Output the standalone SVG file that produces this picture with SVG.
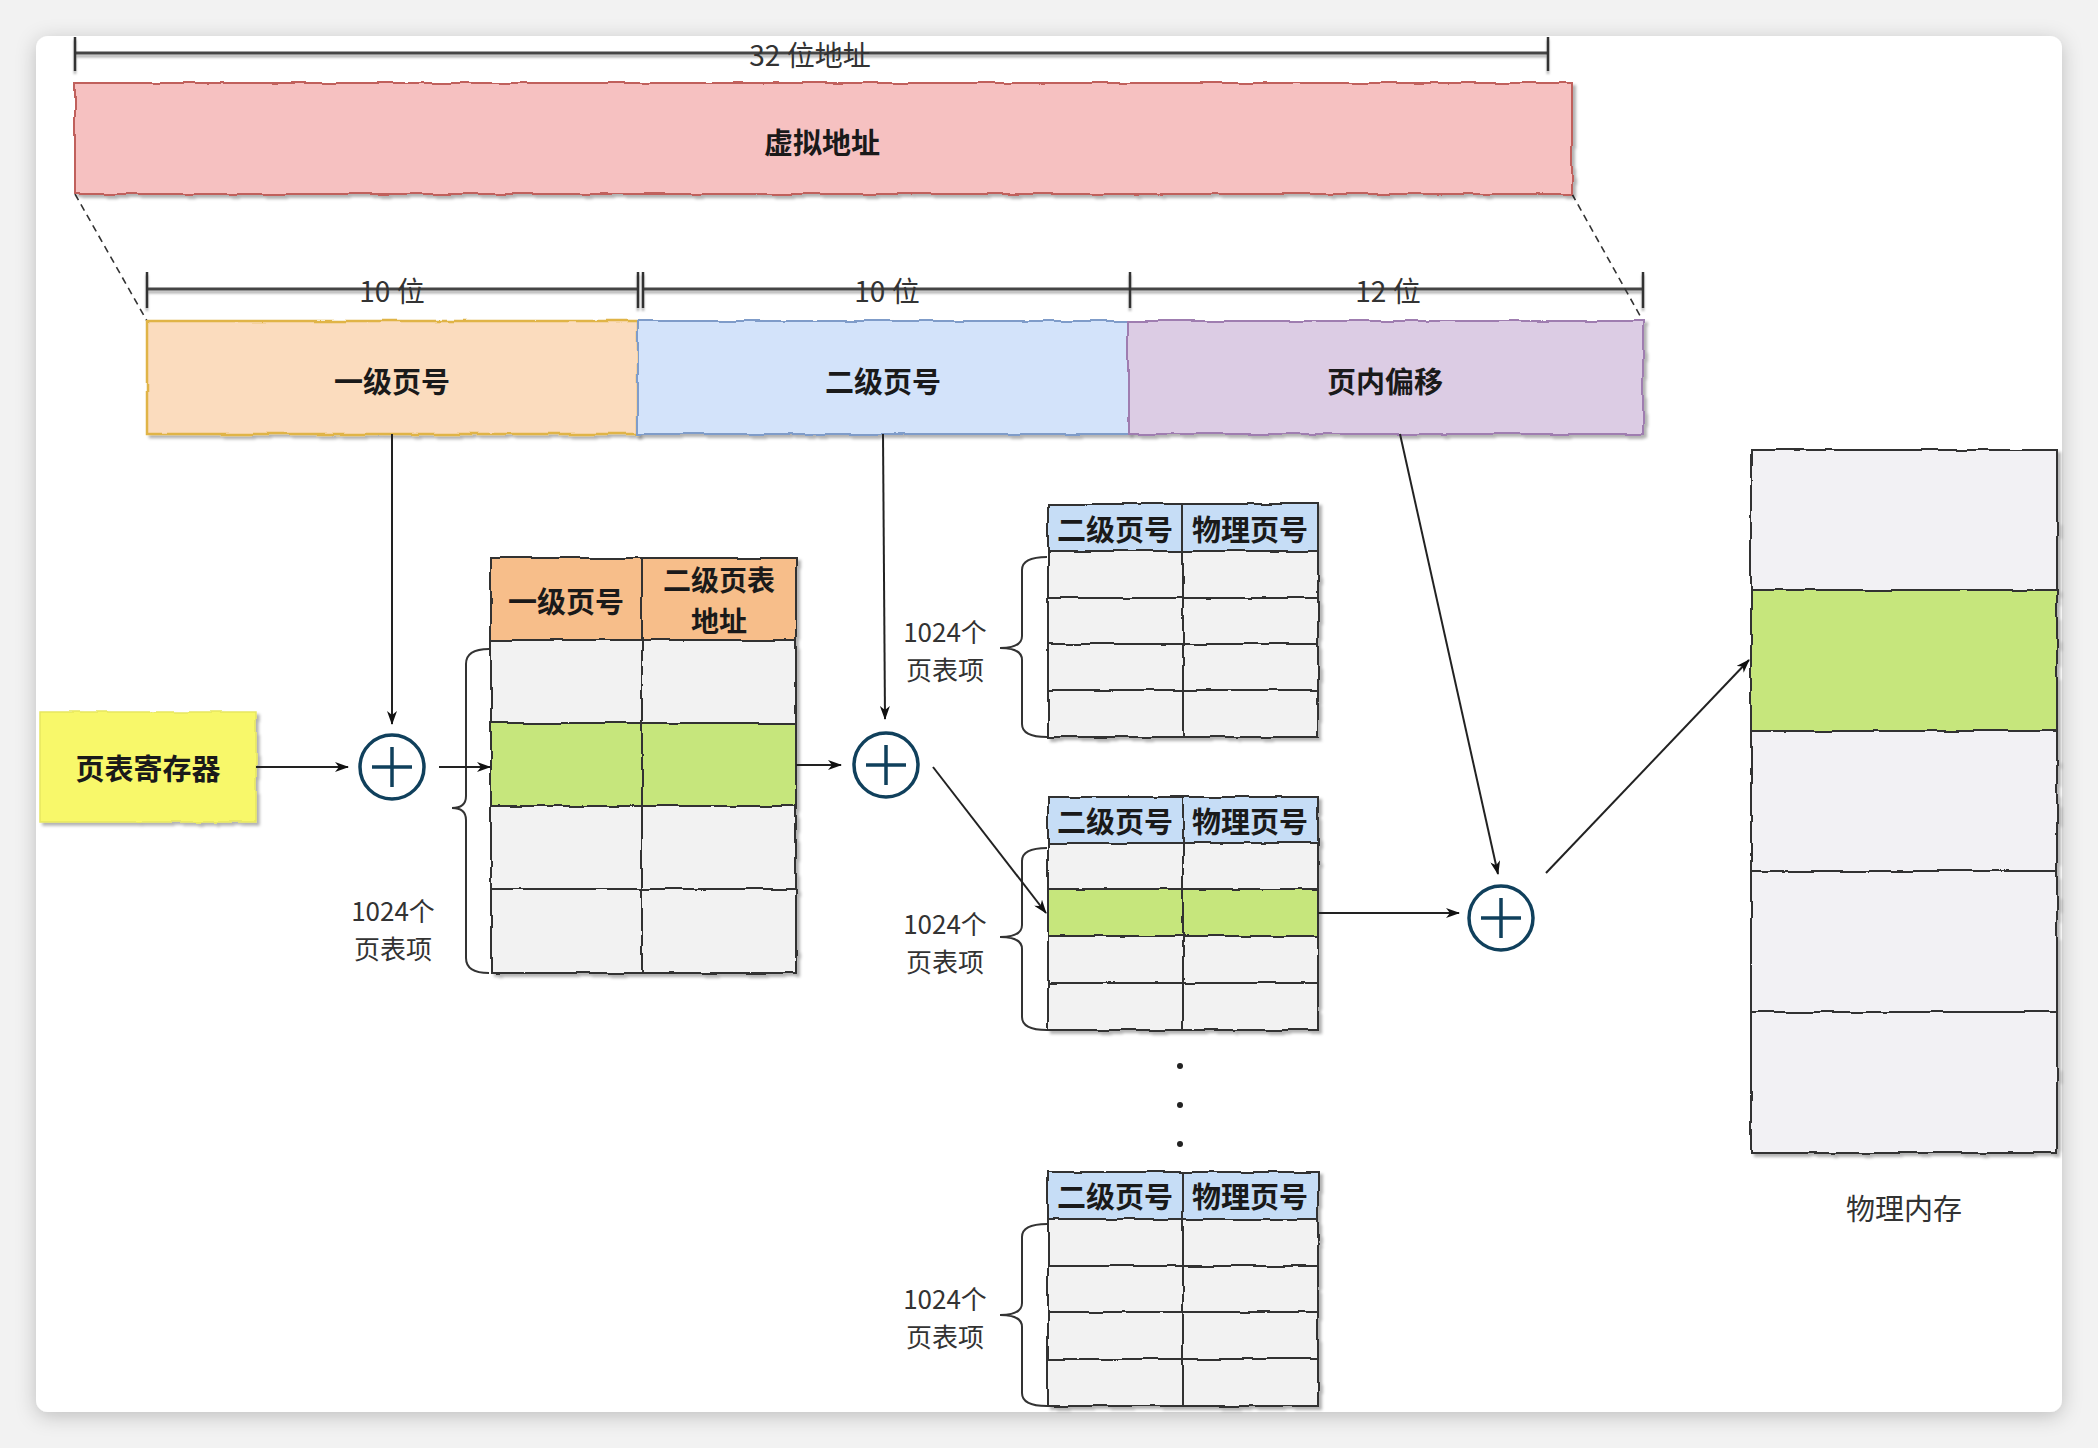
<svg xmlns="http://www.w3.org/2000/svg" width="2098" height="1448" viewBox="0 0 2098 1448">
<defs>
<style>
.b{font-family:"Noto Sans CJK SC","Noto Sans",sans-serif;font-weight:700;font-size:29px;fill:#1a1a1a;text-anchor:middle;dominant-baseline:central}
.r{font-family:"Noto Sans CJK SC","Noto Sans",sans-serif;font-weight:400;font-size:26px;fill:#333;text-anchor:middle;dominant-baseline:central}
.dim{font-family:"Noto Sans CJK SC","Noto Sans",sans-serif;font-weight:400;font-size:28px;fill:#333;text-anchor:middle;dominant-baseline:central}
.cell{stroke:#333;stroke-width:2}
.g{fill:#f2f2f2}
.gr{fill:#c6e67b}
.con{fill:none;stroke:#222;stroke-width:2;marker-end:url(#arr)}
.dl{stroke:#444;stroke-width:3;fill:none}
.tk{stroke:#333;stroke-width:2.5}
.brace{fill:none;stroke:#333;stroke-width:2}
.circ{fill:#fff;stroke:#10405c;stroke-width:3.5}
</style>
<marker id="arr" viewBox="0 0 14 10" refX="13" refY="5" markerWidth="14" markerHeight="10" markerUnits="userSpaceOnUse" orient="auto">
<path d="M0,0 L14,5 L0,10 L4,5 z" fill="#111"/>
</marker>
<filter id="sk" x="-5%" y="-10%" width="110%" height="125%">
<feTurbulence type="fractalNoise" baseFrequency="0.035" numOctaves="2" seed="4" result="n"/>
<feDisplacementMap in="SourceGraphic" in2="n" scale="4" xChannelSelector="R" yChannelSelector="G" result="d"/>
<feDropShadow in="d" dx="3" dy="3" stdDeviation="1.5" flood-color="#000" flood-opacity="0.3"/>
</filter>
<filter id="card" x="-5%" y="-5%" width="110%" height="110%">
<feDropShadow dx="0" dy="4" stdDeviation="10" flood-color="#000" flood-opacity="0.22"/>
</filter>
<filter id="dsh" x="-5%" y="-50%" width="110%" height="200%">
<feDropShadow dx="0" dy="3" stdDeviation="1.2" flood-color="#000" flood-opacity="0.3"/>
</filter>
</defs>

<rect x="0" y="0" width="2098" height="1448" fill="#f2f2f2"/>
<rect x="36" y="36" width="2026" height="1376" rx="12" fill="#fff" filter="url(#card)"/>

<!-- dimension lines -->
<g id="dims" filter="url(#dsh)">
<line class="dl" x1="75" y1="53" x2="1548" y2="53"/>
<line class="tk" x1="75" y1="37" x2="75" y2="71"/>
<line class="tk" x1="1548" y1="37" x2="1548" y2="71"/>
<line class="dl" x1="147" y1="289" x2="637" y2="289"/>
<line class="dl" x1="643" y1="289" x2="1129" y2="289"/>
<line class="dl" x1="1131" y1="289" x2="1643" y2="289"/>
<line class="tk" x1="147" y1="272" x2="147" y2="308"/>
<line class="tk" x1="638" y1="272" x2="638" y2="308"/>
<line class="tk" x1="643" y1="272" x2="643" y2="308"/>
<line class="tk" x1="1130" y1="272" x2="1130" y2="308"/>
<line class="tk" x1="1643" y1="272" x2="1643" y2="308"/>
</g>
<text class="dim" x="810" y="54">32 位地址</text>
<text class="dim" x="392" y="290">10 位</text>
<text class="dim" x="887" y="290">10 位</text>
<text class="dim" x="1388" y="290">12 位</text>

<!-- dashed projection lines -->
<g id="proj" stroke="#333" stroke-width="1.6" stroke-dasharray="7,5" fill="none">
<line x1="75" y1="194" x2="147" y2="321"/>
<line x1="1572" y1="194" x2="1643" y2="321"/>
</g>

<g id="vaddr">
<rect x="75" y="83" width="1497" height="111" fill="#f6c1c1" stroke="#c0605c" stroke-width="2" filter="url(#sk)"/>
<text class="b" x="822" y="141">虚拟地址</text>
</g>

<g id="l1">
<rect x="147" y="321" width="491" height="113" fill="#fbdcbe" stroke="#e0b446" stroke-width="2.5" filter="url(#sk)"/>
<text class="b" x="392" y="380">一级页号</text>
</g>
<g id="l2">
<rect x="638" y="321" width="490" height="113" fill="#d3e3fa" stroke="#7f9cc9" stroke-width="2" filter="url(#sk)"/>
<text class="b" x="883" y="380">二级页号</text>
</g>
<g id="off">
<rect x="1128" y="321" width="515" height="113" fill="#dccce4" stroke="#9f7db0" stroke-width="2" filter="url(#sk)"/>
<text class="b" x="1385" y="380">页内偏移</text>
</g>

<g id="reg">
<rect x="40" y="712" width="216" height="110" fill="#f8f86a" stroke="#e6e660" stroke-width="1.5" filter="url(#sk)"/>
<text class="b" x="148" y="767">页表寄存器</text>
</g>

<g id="plus1">
<circle class="circ" cx="392" cy="767" r="32"/>
<path d="M372,767 H412 M392,747 V787" stroke="#10405c" stroke-width="3.5"/>
</g>
<g id="plus2">
<circle class="circ" cx="886" cy="765" r="32"/>
<path d="M866,765 H906 M886,745 V785" stroke="#10405c" stroke-width="3.5"/>
</g>
<g id="plus3">
<circle class="circ" cx="1501" cy="918" r="32"/>
<path d="M1481,918 H1521 M1501,898 V938" stroke="#10405c" stroke-width="3.5"/>
</g>

<!-- first-level page table -->
<g id="table1" filter="url(#sk)">
<rect class="cell" x="491" y="558" width="151" height="82" fill="#f7be8a"/>
<rect class="cell" x="642" y="558" width="154" height="82" fill="#f7be8a"/>
<rect class="cell g" x="491" y="640" width="151" height="83"/>
<rect class="cell g" x="642" y="640" width="154" height="83"/>
<rect class="cell gr" x="491" y="723" width="151" height="83"/>
<rect class="cell gr" x="642" y="723" width="154" height="83"/>
<rect class="cell g" x="491" y="806" width="151" height="83"/>
<rect class="cell g" x="642" y="806" width="154" height="83"/>
<rect class="cell g" x="491" y="889" width="151" height="84"/>
<rect class="cell g" x="642" y="889" width="154" height="84"/>
</g>
<g id="table1-text">
<text class="b" x="566" y="600">一级页号</text>
<text class="b" x="719" y="579" style="font-size:28px">二级页表<tspan x="719" dy="41">地址</tspan></text>
<path class="brace" d="M489,649 Q466,649 466,664 V796 Q466,808 452,808 Q466,808 466,820 V958 Q466,973 489,973"/>
<text class="r" x="393" y="909">1024个<tspan x="393" dy="38">页表项</tspan></text>
</g>

<!-- second-level page table A -->
<g id="table2" filter="url(#sk)">
<rect class="cell" x="1048" y="504" width="135" height="47" fill="#c6ddf6"/>
<rect class="cell" x="1183" y="504" width="135" height="47" fill="#c6ddf6"/>
<rect class="cell g" x="1048" y="551" width="135" height="47"/>
<rect class="cell g" x="1183" y="551" width="135" height="47"/>
<rect class="cell g" x="1048" y="598" width="135" height="46"/>
<rect class="cell g" x="1183" y="598" width="135" height="46"/>
<rect class="cell g" x="1048" y="644" width="135" height="46"/>
<rect class="cell g" x="1183" y="644" width="135" height="46"/>
<rect class="cell g" x="1048" y="690" width="135" height="47"/>
<rect class="cell g" x="1183" y="690" width="135" height="47"/>
</g>
<g id="table2-text">
<text class="b" x="1115" y="528">二级页号</text>
<text class="b" x="1250" y="528">物理页号</text>
<path class="brace" d="M1047,557 Q1022,557 1022,570 V636 Q1022,648 1000,648 Q1022,648 1022,660 V724 Q1022,737 1047,737"/>
<text class="r" x="945" y="630">1024个<tspan x="945" dy="38">页表项</tspan></text>
</g>

<!-- second-level page table B -->
<g id="table3" filter="url(#sk)">
<rect class="cell" x="1048" y="797" width="135" height="46" fill="#c6ddf6"/>
<rect class="cell" x="1183" y="797" width="135" height="46" fill="#c6ddf6"/>
<rect class="cell g" x="1048" y="843" width="135" height="46"/>
<rect class="cell g" x="1183" y="843" width="135" height="46"/>
<rect class="cell gr" x="1048" y="889" width="135" height="47"/>
<rect class="cell gr" x="1183" y="889" width="135" height="47"/>
<rect class="cell g" x="1048" y="936" width="135" height="47"/>
<rect class="cell g" x="1183" y="936" width="135" height="47"/>
<rect class="cell g" x="1048" y="983" width="135" height="47"/>
<rect class="cell g" x="1183" y="983" width="135" height="47"/>
</g>
<g id="table3-text">
<text class="b" x="1115" y="820">二级页号</text>
<text class="b" x="1250" y="820">物理页号</text>
<path class="brace" d="M1047,848 Q1022,848 1022,861 V925 Q1022,937 1000,937 Q1022,937 1022,949 V1017 Q1022,1030 1047,1030"/>
<text class="r" x="945" y="922">1024个<tspan x="945" dy="38">页表项</tspan></text>
</g>

<g id="dots" fill="#222">
<circle cx="1180" cy="1066" r="3"/>
<circle cx="1180" cy="1105" r="3"/>
<circle cx="1180" cy="1144" r="3"/>
</g>

<!-- second-level page table C -->
<g id="table4" filter="url(#sk)">
<rect class="cell" x="1048" y="1172" width="135" height="47" fill="#c6ddf6"/>
<rect class="cell" x="1183" y="1172" width="135" height="47" fill="#c6ddf6"/>
<rect class="cell g" x="1048" y="1219" width="135" height="47"/>
<rect class="cell g" x="1183" y="1219" width="135" height="47"/>
<rect class="cell g" x="1048" y="1266" width="135" height="46"/>
<rect class="cell g" x="1183" y="1266" width="135" height="46"/>
<rect class="cell g" x="1048" y="1312" width="135" height="47"/>
<rect class="cell g" x="1183" y="1312" width="135" height="47"/>
<rect class="cell g" x="1048" y="1359" width="135" height="47"/>
<rect class="cell g" x="1183" y="1359" width="135" height="47"/>
</g>
<g id="table4-text">
<text class="b" x="1115" y="1195">二级页号</text>
<text class="b" x="1250" y="1195">物理页号</text>
<path class="brace" d="M1047,1224 Q1022,1224 1022,1237 V1303 Q1022,1315 1000,1315 Q1022,1315 1022,1327 V1393 Q1022,1406 1047,1406"/>
<text class="r" x="945" y="1297">1024个<tspan x="945" dy="38">页表项</tspan></text>
</g>

<!-- physical memory -->
<g id="pmem">
<g filter="url(#sk)">
<rect class="cell" x="1751" y="450" width="306" height="140" fill="#f2f1f4"/>
<rect class="cell gr" x="1751" y="590" width="306" height="141"/>
<rect class="cell" x="1751" y="731" width="306" height="140" fill="#f2f1f4"/>
<rect class="cell" x="1751" y="871" width="306" height="141" fill="#f2f1f4"/>
<rect class="cell" x="1751" y="1012" width="306" height="141" fill="#f2f1f4"/>
</g>
<text class="r" x="1904" y="1207" style="font-size:29px">物理内存</text>
</g>

<!-- connectors -->
<g id="connectors">
<line class="con" x1="392" y1="434" x2="392" y2="724"/>
<line class="con" x1="256" y1="767" x2="348" y2="767"/>
<line class="con" x1="439" y1="767" x2="490" y2="767"/>
<line class="con" x1="796" y1="765" x2="841" y2="765"/>
<line class="con" x1="883" y1="434" x2="885" y2="719"/>
<line class="con" x1="933" y1="767" x2="1046" y2="913"/>
<line class="con" x1="1318" y1="913" x2="1459" y2="913"/>
<line class="con" x1="1400" y1="434" x2="1498" y2="874"/>
<line class="con" x1="1546" y1="873" x2="1749" y2="660"/>
</g>
</svg>
